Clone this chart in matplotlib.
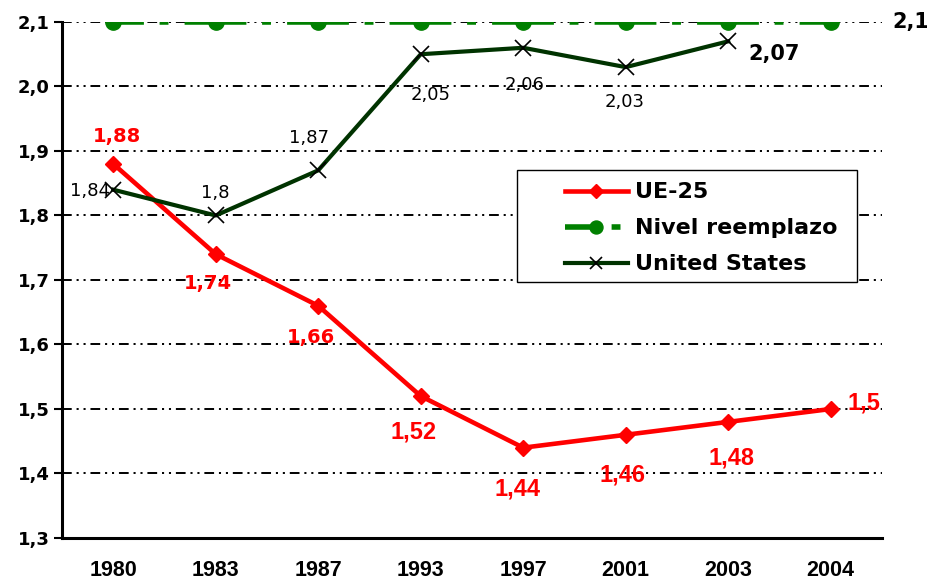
import matplotlib
matplotlib.use("Agg")
import matplotlib.pyplot as plt
from matplotlib.patches import Rectangle

years = ["1980", "1983", "1987", "1993", "1997", "2001", "2003", "2004"]
ue25 = [1.88, 1.74, 1.66, 1.52, 1.44, 1.46, 1.48, 1.5]
reemplazo = [2.1, 2.1, 2.1, 2.1, 2.1, 2.1, 2.1, 2.1]
usa = [1.84, 1.8, 1.87, 2.05, 2.06, 2.03, 2.07]
ue_labels = ["1,88", "1,74", "1,66", "1,52", "1,44", "1,46", "1,48", "1,5"]
usa_labels = ["1,84", "1,8", "1,87", "2,05", "2,06", "2,03", "2,07"]
yticks = [1.3, 1.4, 1.5, 1.6, 1.7, 1.8, 1.9, 2.0, 2.1]

# label offsets in points (layout only)
ue_off = [(3, 20), (-6, -21), (-5, -23), (-5, -26), (-4, -30), (-2, -29), (2, -26), (24, 4)]
usa_off = [(-17, -1), (0, 16), (-7, 23), (7, -29), (1, -27), (-1, -25), (33, -9)]

plt.rcParams["lines.scale_dashes"] = False
narrow = "Liberation Sans"

fig = plt.figure(figsize=(9.28, 5.83), dpi=100)
ax = fig.add_axes([0.0668, 0.0772, 0.8836, 0.8851])
x = list(range(len(years)))

for y in yticks[1:]:
    ax.axhline(y, color="black", lw=1.4, ls=(0, (7, 3.5, 1.5, 3.5, 1.5, 3.5)), zorder=1)

ax.plot(x, ue25, color="#ff0000", lw=3.3, marker="D", ms=8, label="UE-25", zorder=3)
ax.plot(x, reemplazo, color="#008000", lw=4, ls=(22.25, (44.5, 11.3, 6.4, 11.6)),
        marker="o", ms=11, label="Nivel reemplazo", zorder=3)
ax.plot(x[:len(usa)], usa, color="#003300", lw=3, marker="x", ms=11, mec="black", mew=1.2,
        label="United States", zorder=4)

for i, (v, t, off) in enumerate(zip(ue25, ue_labels, ue_off)):
    if i < 3:
        ax.annotate(t, (i, v), xytext=off, textcoords="offset points", ha="center", va="center",
                    color="#ff0000", fontsize=14, fontweight="bold")
    else:
        ax.annotate(t, (i, v), xytext=off, textcoords="offset points", ha="center", va="center",
                    color="#ff0000", fontsize=17, fontweight="bold", family=narrow)

for i, (v, t, off) in enumerate(zip(usa, usa_labels, usa_off)):
    last = i == len(usa) - 1
    ax.annotate(t, (i, v), xytext=off, textcoords="offset points", ha="center", va="center",
                color="black", fontsize=15 if last else 13, fontweight="bold" if last else "normal")

ax.annotate("2,1", (x[-1], reemplazo[-1]), xytext=(58, 0), textcoords="offset points",
            ha="center", va="center", fontsize=15, fontweight="bold", annotation_clip=False)

ax.set_xlim(-0.5, 7.5)
ax.set_ylim(1.3, 2.1)
ax.set_yticks(yticks)
ax.set_yticklabels([f"{v:.1f}".replace(".", ",") for v in yticks], fontsize=13, fontweight="bold")
ax.set_xticks(x)
ax.set_xticklabels(years, fontsize=15.5, fontweight="bold", family=narrow)
ax.tick_params(axis="x", length=0, pad=16)
ax.tick_params(axis="y", length=6, width=1.5, pad=3)

for s in ["top", "right"]:
    ax.spines[s].set_visible(False)
ax.spines["left"].set_linewidth(2.2)
ax.spines["bottom"].set_linewidth(2.2)

ax.add_patch(Rectangle((0.555, 0.496), 0.4145, 0.217, transform=ax.transAxes, fill=True,
                       facecolor="white", edgecolor="black", lw=1.0, zorder=5))
leg = ax.legend(loc="center left", bbox_to_anchor=(0.613, 0.6), borderaxespad=0, borderpad=0,
                prop={"weight": "bold", "size": 16}, frameon=False, handlelength=2.85,
                labelspacing=0.72, handletextpad=0.3, markerscale=0.85)
leg.set_zorder(6)

fig.savefig("out.png", dpi=100)
